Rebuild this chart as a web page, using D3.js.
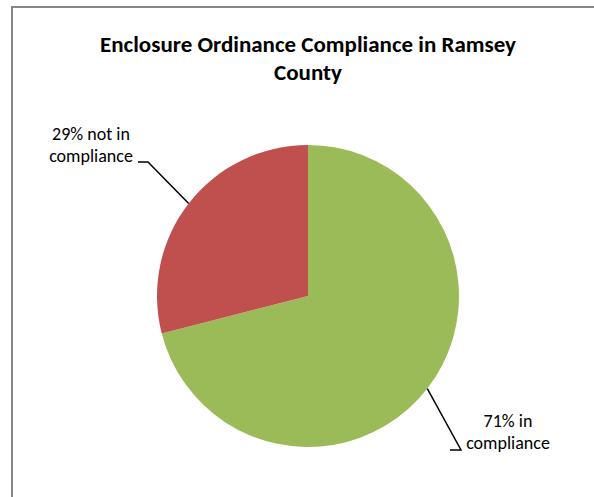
<!DOCTYPE html>
<html>
<head>
<meta charset="utf-8">
<script src="https://cdn.jsdelivr.net/npm/d3@7"></script>
<style>
  body { margin: 0; background: #fff; }
  text { font-family: Carlito, Lato, "Open Sans", sans-serif; fill: #000; }
</style>
</head>
<body>
<div id="chart"></div>
<script>
var categories = ["in compliance", "not in compliance"];
var values = [71, 29];
var labels = [["71% in", "compliance"], ["29% not in", "compliance"]];
var colors = ["#9bbb59", "#c0504d"];

var width = 594, height = 497;
var svg = d3.select("#chart").append("svg")
    .attr("width", width)
    .attr("height", height);

// chart frame, runs off the right/bottom edge
svg.append("rect")
    .attr("x", 12).attr("y", 7)
    .attr("width", 600).attr("height", 520)
    .attr("fill", "#fff")
    .attr("stroke", "#868686")
    .attr("stroke-width", 2);

var title = svg.append("text")
    .attr("text-anchor", "middle")
    .attr("font-weight", "bold")
    .attr("font-size", 23);
title.append("tspan").attr("x", 308).attr("y", 52).text("Enclosure Ordinance Compliance in Ramsey");
title.append("tspan").attr("x", 308).attr("y", 80).text("County");

var cx = 308, cy = 296, r = 151;
var g = svg.append("g").attr("transform", "translate(" + cx + "," + cy + ")");

var pie = d3.pie().sort(null).value(function(d) { return d; });
var arc = d3.arc().innerRadius(0).outerRadius(r);
var arcs = pie(values);

g.selectAll("path.slice")
    .data(arcs)
  .enter().append("path")
    .attr("class", "slice")
    .attr("d", arc)
    .attr("fill", function(d, i) { return colors[i]; });

// label anchor positions (relative to the pie centre) and leader elbows
var labelPos = [
    { x: 200, y: 131, anchor: "middle", elbow: [[153, 154], [142, 154]] },
    { x: -217, y: -156, anchor: "middle", elbow: [[-160, -134], [-170, -134]] }
];

arcs.forEach(function(d, i) {
    var mid = (d.startAngle + d.endAngle) / 2;
    var edge = [Math.sin(mid) * r, -Math.cos(mid) * r];
    var p = labelPos[i];
    g.append("path")
        .attr("d", d3.line()([edge].concat(p.elbow)))
        .attr("fill", "none")
        .attr("stroke", "#000")
        .attr("stroke-width", 1.5);
    var t = g.append("text")
        .attr("text-anchor", p.anchor)
        .attr("font-size", 18);
    labels[i].forEach(function(s, k) {
        t.append("tspan").attr("x", p.x).attr("y", p.y + k * 22).text(s);
    });
});
</script>
</body>
</html>
